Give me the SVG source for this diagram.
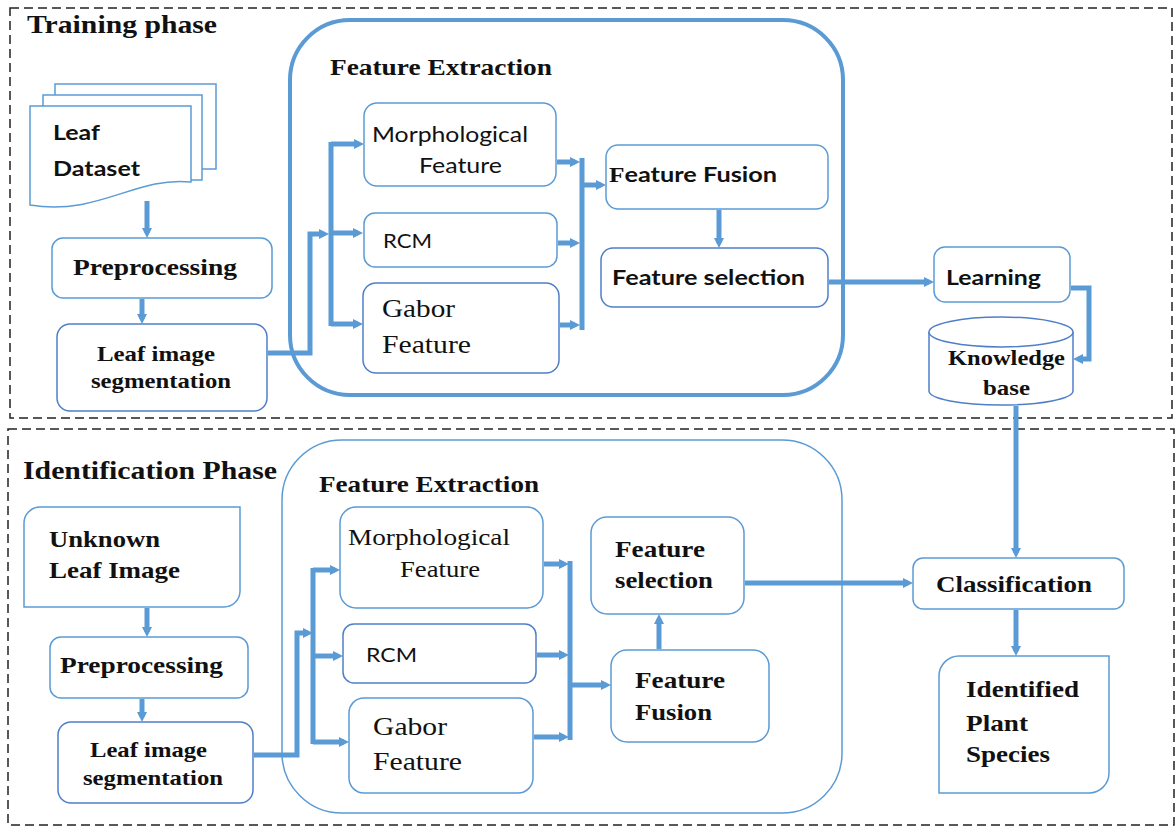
<svg xmlns="http://www.w3.org/2000/svg" width="1176" height="827" viewBox="0 0 1176 827">
<defs>
<marker id="ah" viewBox="0 0 10 10" markerUnits="userSpaceOnUse" markerWidth="10" markerHeight="12" refX="5" refY="5" orient="auto">
<path d="M0,0 L10,5 L0,10 Z" fill="#5B9BD5"/>
</marker>
<style>
.frame{fill:none;stroke:#222;stroke-width:1.5;stroke-dasharray:9 5}
.box{fill:#fff;stroke:#5B9BD5;stroke-width:1.5}
.dbox{fill:#fff;stroke:#4F7FC8;stroke-width:1.5}
.con{fill:none;stroke:#5B9BD5;stroke-width:5}
.arr{fill:none;stroke:#5B9BD5;stroke-width:5;marker-end:url(#ah)}
.sb{font-family:"Liberation Serif",serif;font-weight:bold;fill:#111}
.sr{font-family:"Liberation Serif",serif;fill:#111}
.nb{font-family:Lato,"Liberation Sans",sans-serif;font-weight:bold;fill:#111}
.nr{font-family:Lato,"Liberation Sans",sans-serif;fill:#111}
</style>
</defs>
<rect width="1176" height="827" fill="#fff"/>

<g id="training-frame">
<rect class="frame" x="10" y="8" width="1162" height="410"/>
<text class="sb" x="27" y="33" font-size="25" textLength="190" lengthAdjust="spacingAndGlyphs">Training phase</text>
</g>
<g id="identification-frame">
<rect class="frame" x="8" y="429" width="1166" height="396"/>
<text class="sb" x="23" y="479" font-size="25" textLength="254" lengthAdjust="spacingAndGlyphs">Identification Phase</text>
</g>

<g id="fe-train">
<rect x="290" y="20" width="553" height="375" rx="60" fill="none" stroke="#5B9BD5" stroke-width="4"/>
<text class="sb" x="330" y="75" font-size="23" textLength="222" lengthAdjust="spacingAndGlyphs">Feature Extraction</text>
</g>
<g id="fe-ident">
<rect x="282" y="440" width="560" height="373" rx="60" fill="none" stroke="#5B9BD5" stroke-width="1.5"/>
<text class="sb" x="319" y="492" font-size="23" textLength="220" lengthAdjust="spacingAndGlyphs">Feature Extraction</text>
</g>

<g id="leaf-dataset">
<rect class="box" x="55" y="84" width="161" height="85"/>
<rect class="box" x="43" y="95" width="159" height="85"/>
<path class="box" d="M30,106 H191 V182 C135,176 100,216 30,205 Z"/>
<text class="nb" x="53" y="140" font-size="20" textLength="47" lengthAdjust="spacingAndGlyphs">Leaf</text>
<text class="nb" x="53" y="176" font-size="20" textLength="87" lengthAdjust="spacingAndGlyphs">Dataset</text>
</g>
<g id="preproc-train">
<rect class="box" x="52" y="238" width="220" height="60" rx="11"/>
<text class="sb" x="73" y="275" font-size="24" textLength="164" lengthAdjust="spacingAndGlyphs">Preprocessing</text>
</g>
<g id="seg-train">
<rect class="dbox" x="57" y="324" width="210" height="87" rx="13"/>
<text class="sb" x="97" y="361" font-size="22" textLength="118" lengthAdjust="spacingAndGlyphs">Leaf image</text>
<text class="sb" x="91" y="388" font-size="22" textLength="140" lengthAdjust="spacingAndGlyphs">segmentation</text>
</g>
<g id="morph-train">
<rect class="box" x="364" y="103" width="192" height="83" rx="13"/>
<text class="nr" x="372" y="142" font-size="21" textLength="156" lengthAdjust="spacingAndGlyphs">Morphological</text>
<text class="nr" x="419" y="173" font-size="21" textLength="83" lengthAdjust="spacingAndGlyphs">Feature</text>
</g>
<g id="rcm-train">
<rect class="box" x="364" y="213" width="193" height="54" rx="11"/>
<text class="nr" x="383" y="248" font-size="19" textLength="49" lengthAdjust="spacingAndGlyphs">RCM</text>
</g>
<g id="gabor-train">
<rect class="dbox" x="363" y="283" width="196" height="90" rx="13"/>
<text class="sr" x="382" y="317" font-size="26" textLength="73" lengthAdjust="spacingAndGlyphs">Gabor</text>
<text class="sr" x="382" y="353" font-size="26" textLength="89" lengthAdjust="spacingAndGlyphs">Feature</text>
</g>
<g id="fusion-train">
<rect class="box" x="606" y="145" width="222" height="64" rx="12"/>
<text class="nb" x="609" y="182" font-size="21" textLength="168" lengthAdjust="spacingAndGlyphs"><tspan font-family="Liberation Serif,serif">F</tspan>eature Fusion</text>
</g>
<g id="selection-train">
<rect class="dbox" x="601" y="248" width="227" height="59" rx="12"/>
<text class="nb" x="612" y="285" font-size="21" textLength="193" lengthAdjust="spacingAndGlyphs">Feature selection</text>
</g>
<g id="learning">
<rect class="box" x="934" y="247" width="136" height="55" rx="11"/>
<text class="nb" x="946" y="285" font-size="21" textLength="95" lengthAdjust="spacingAndGlyphs">Learning</text>
</g>
<g id="knowledge-base">
<path class="dbox" d="M929,332 V391 A72,14 0 0 0 1073,391 V332"/>
<ellipse class="dbox" cx="1001" cy="332" rx="72" ry="15"/>
<text class="sb" x="948" y="365" font-size="22" textLength="117" lengthAdjust="spacingAndGlyphs">Knowledge</text>
<text class="sb" x="983" y="395" font-size="22" textLength="47" lengthAdjust="spacingAndGlyphs">base</text>
</g>

<g id="unknown-leaf">
<path class="box" d="M40,507 H240 V591 A16,16 0 0 1 224,607 H24 V523 A16,16 0 0 1 40,507 Z"/>
<text class="sb" x="49" y="547" font-size="24" textLength="111" lengthAdjust="spacingAndGlyphs">Unknown</text>
<text class="sb" x="49" y="578" font-size="24" textLength="131" lengthAdjust="spacingAndGlyphs">Leaf Image</text>
</g>
<g id="preproc-ident">
<rect class="box" x="50" y="637" width="198" height="61" rx="11"/>
<text class="sb" x="60" y="673" font-size="24" textLength="163" lengthAdjust="spacingAndGlyphs">Preprocessing</text>
</g>
<g id="seg-ident">
<rect class="dbox" x="58" y="722" width="195" height="81" rx="13"/>
<text class="sb" x="90" y="757" font-size="22" textLength="117" lengthAdjust="spacingAndGlyphs">Leaf image</text>
<text class="sb" x="83" y="785" font-size="22" textLength="140" lengthAdjust="spacingAndGlyphs">segmentation</text>
</g>
<g id="morph-ident">
<rect class="box" x="340" y="507" width="203" height="101" rx="16"/>
<text class="sr" x="348" y="545" font-size="23" textLength="162" lengthAdjust="spacingAndGlyphs">Morphological</text>
<text class="sr" x="400" y="577" font-size="23" textLength="80" lengthAdjust="spacingAndGlyphs">Feature</text>
</g>
<g id="rcm-ident">
<rect class="dbox" x="343" y="624" width="193" height="59" rx="11"/>
<text class="nr" x="366" y="662" font-size="19" textLength="51" lengthAdjust="spacingAndGlyphs">RCM</text>
</g>
<g id="gabor-ident">
<rect class="box" x="349" y="698" width="184" height="95" rx="15"/>
<text class="sr" x="373" y="735" font-size="26" textLength="74" lengthAdjust="spacingAndGlyphs">Gabor</text>
<text class="sr" x="373" y="770" font-size="26" textLength="89" lengthAdjust="spacingAndGlyphs">Feature</text>
</g>
<g id="selection-ident">
<rect class="box" x="591" y="517" width="153" height="97" rx="16"/>
<text class="sb" x="615" y="557" font-size="24" textLength="90" lengthAdjust="spacingAndGlyphs">Feature</text>
<text class="sb" x="615" y="588" font-size="24" textLength="98" lengthAdjust="spacingAndGlyphs">selection</text>
</g>
<g id="fusion-ident">
<rect class="box" x="611" y="650" width="158" height="92" rx="16"/>
<text class="sb" x="635" y="688" font-size="24" textLength="90" lengthAdjust="spacingAndGlyphs">Feature</text>
<text class="sb" x="635" y="720" font-size="24" textLength="77" lengthAdjust="spacingAndGlyphs">Fusion</text>
</g>
<g id="classification">
<rect class="box" x="913" y="558" width="211" height="51" rx="10"/>
<text class="sb" x="936" y="592" font-size="24" textLength="156" lengthAdjust="spacingAndGlyphs">Classification</text>
</g>
<g id="identified-species">
<path class="box" d="M959,656 H1109 V773 A20,20 0 0 1 1089,793 H939 V676 A20,20 0 0 1 959,656 Z"/>
<text class="sb" x="966" y="697" font-size="24" textLength="113" lengthAdjust="spacingAndGlyphs">Identified</text>
<text class="sb" x="966" y="731" font-size="24" textLength="62" lengthAdjust="spacingAndGlyphs">Plant</text>
<text class="sb" x="966" y="762" font-size="24" textLength="84" lengthAdjust="spacingAndGlyphs">Species</text>
</g>

<g id="connectors">
<path class="arr" d="M147,201 V233"/>
<path class="arr" d="M142,299 V319"/>
<path class="arr" d="M268,353 H310 V234 H324"/>
<path class="con" d="M331,142 V326"/>
<path class="arr" d="M331,144 H359"/>
<path class="arr" d="M331,233 H358"/>
<path class="arr" d="M331,324 H358"/>
<path class="arr" d="M557,162 H575"/>
<path class="arr" d="M558,243 H575"/>
<path class="arr" d="M560,325 H575"/>
<path class="con" d="M582,158 V330"/>
<path class="arr" d="M582,185 H601"/>
<path class="arr" d="M719,210 V243"/>
<path class="arr" d="M829,282 H929"/>
<path class="arr" d="M1071,288 H1089 V359 H1078"/>
<path class="arr" d="M1016,406 V553"/>
<path class="arr" d="M147,608 V632"/>
<path class="arr" d="M142,699 V717"/>
<path class="arr" d="M254,755 H297 V633 H308"/>
<path class="con" d="M313,568 V744"/>
<path class="arr" d="M313,570 H335"/>
<path class="arr" d="M313,656 H338"/>
<path class="arr" d="M313,742 H344"/>
<path class="arr" d="M544,564 H564"/>
<path class="arr" d="M537,655 H564"/>
<path class="arr" d="M534,737 H564"/>
<path class="con" d="M570,561 V740"/>
<path class="arr" d="M570,685 H606"/>
<path class="arr" d="M659,649 V619"/>
<path class="arr" d="M745,583 H908"/>
<path class="arr" d="M1016,610 V651"/>
</g>
</svg>
